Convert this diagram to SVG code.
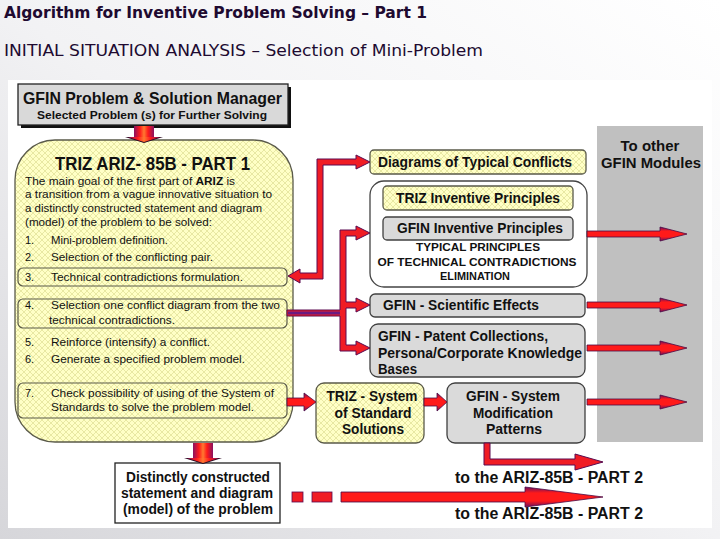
<svg xmlns="http://www.w3.org/2000/svg" width="720" height="539" viewBox="0 0 720 539">
<defs>
  <linearGradient id="bg" x1="1" y1="0" x2="0" y2="1">
    <stop offset="0" stop-color="#ffffff"/>
    <stop offset="0.5" stop-color="#f2f2f4"/>
    <stop offset="1" stop-color="#d6d6da"/>
  </linearGradient>
  <pattern id="hatch" width="6" height="6" patternUnits="userSpaceOnUse">
    <rect width="6" height="6" fill="#ffffc6"/>
    <path d="M0,0 L6,6 M6,0 L0,6" stroke="#e2e29a" stroke-width="0.8"/>
  </pattern>
  <linearGradient id="hArrow" x1="0" y1="0" x2="0" y2="1">
    <stop offset="0" stop-color="#6a0f60"/>
    <stop offset="0.3" stop-color="#ff1a1a"/>
    <stop offset="0.7" stop-color="#ff1a1a"/>
    <stop offset="1" stop-color="#6a0f60"/>
  </linearGradient>
  <linearGradient id="vArrow" x1="0" y1="0" x2="1" y2="0">
    <stop offset="0" stop-color="#8a1060"/>
    <stop offset="0.3" stop-color="#ff1a1a"/>
    <stop offset="0.5" stop-color="#ff7a30"/>
    <stop offset="0.7" stop-color="#ff1a1a"/>
    <stop offset="1" stop-color="#8a1060"/>
  </linearGradient>
  <path id="rightArrow" d="M0,-3 L73,-3 L73,-7 L100,0 L73,7 L73,3 L0,3 Z"/>
  <style>
    .t{font-family:"Liberation Sans",Arial,sans-serif;fill:#111}
    .b{font-weight:bold}
    .ttl{font-family:"DejaVu Sans Condensed","DejaVu Sans",sans-serif;fill:#200a30}
    .yel{fill:url(#hatch);stroke:#5a5a4a;stroke-width:1.3}
    .gry{fill:#dadada;stroke:#404040;stroke-width:1.3}
    .sub{fill:none;stroke:#5a5a4a;stroke-width:1.2}
    .arr{fill:url(#hArrow);stroke:#4a0a45;stroke-width:0.8}
    .con{fill:#f01c24;stroke:#5a0a50;stroke-width:1}
    .fat{fill:url(#vArrow);stroke:none}
    .fathead{fill:#2a0a20}
  </style>
</defs>

<rect width="720" height="539" fill="url(#bg)"/>
<text class="ttl b" x="4" y="18" font-size="16" textLength="423" lengthAdjust="spacingAndGlyphs">Algorithm for Inventive Problem Solving – Part 1</text>
<text class="ttl" x="4" y="56" font-size="16" textLength="479" lengthAdjust="spacingAndGlyphs">INITIAL SITUATION ANALYSIS – Selection of Mini-Problem</text>

<rect x="8" y="80" width="704" height="448" fill="#ffffff"/>

<g id="other-modules">
  <rect x="597" y="126" width="106" height="316" fill="#c0c0c0"/>
  <text class="t b" x="650" y="151" font-size="15" text-anchor="middle">To other</text>
  <text class="t b" x="651" y="168" font-size="15" text-anchor="middle" textLength="100" lengthAdjust="spacingAndGlyphs">GFIN Modules</text>
</g>

<g id="manager">
  <rect x="21" y="87" width="270" height="41" fill="#111"/>
  <rect x="18" y="84" width="270" height="41" fill="#d9d9d9" stroke="#222" stroke-width="1.3"/>
  <text class="t b" x="152.5" y="104" font-size="17" text-anchor="middle" textLength="259" lengthAdjust="spacingAndGlyphs">GFIN Problem &amp; Solution Manager</text>
  <text class="t b" x="152" y="119" font-size="11" text-anchor="middle" textLength="230" lengthAdjust="spacingAndGlyphs">Selected Problem (s) for Further Solving</text>
</g>

<g id="ariz-part1">
  <rect class="yel" x="15" y="140" width="278" height="302" rx="40" ry="40"/>
  <text class="t b" x="152.5" y="170" font-size="19" text-anchor="middle" textLength="195" lengthAdjust="spacingAndGlyphs">TRIZ ARIZ- 85B - PART 1</text>
  <g class="t" font-size="11">
    <text x="25" y="185" textLength="210" lengthAdjust="spacingAndGlyphs">The main goal of the first part of <tspan class="b">ARIZ</tspan> is</text>
    <text x="25" y="198" textLength="247" lengthAdjust="spacingAndGlyphs">a transition  from a vague innovative situation to</text>
    <text x="25" y="212" textLength="237" lengthAdjust="spacingAndGlyphs">a distinctly constructed statement and diagram</text>
    <text x="25" y="226" textLength="187" lengthAdjust="spacingAndGlyphs">(model) of the problem to be solved:</text>
    <text x="25" y="244">1.</text><text x="51" y="244" textLength="117" lengthAdjust="spacingAndGlyphs">Mini-problem definition.</text>
    <text x="25" y="261">2.</text><text x="51" y="261" textLength="162" lengthAdjust="spacingAndGlyphs">Selection of the conflicting pair.</text>
    <text x="25" y="281">3.</text><text x="51" y="281" textLength="192" lengthAdjust="spacingAndGlyphs">Technical contradictions formulation.</text>
    <text x="25" y="309">4.</text><text x="51" y="309" textLength="229" lengthAdjust="spacingAndGlyphs">Selection one conflict diagram from the two</text>
    <text x="49" y="324" textLength="126" lengthAdjust="spacingAndGlyphs">technical contradictions.</text>
    <text x="25" y="346">5.</text><text x="51" y="346" textLength="159" lengthAdjust="spacingAndGlyphs">Reinforce (intensify) a conflict.</text>
    <text x="25" y="363">6.</text><text x="51" y="363" textLength="194" lengthAdjust="spacingAndGlyphs">Generate a specified problem model.</text>
    <text x="25" y="397">7.</text><text x="51" y="397" textLength="223" lengthAdjust="spacingAndGlyphs">Check possibility of using of the System of</text>
    <text x="51" y="411" textLength="203" lengthAdjust="spacingAndGlyphs">Standards to solve the problem model.</text>
  </g>
  <rect class="sub" x="18" y="268" width="269" height="18" rx="5"/>
  <rect class="sub" x="18" y="299" width="269" height="29" rx="5"/>
  <rect class="sub" x="18" y="383" width="269" height="35" rx="5"/>
</g>

<g id="distinct-statement">
  <rect x="115" y="463" width="165" height="60" fill="#ffffff" stroke="#222" stroke-width="1.3"/>
  <text class="t b" x="198" y="482" font-size="14" text-anchor="middle" textLength="144" lengthAdjust="spacingAndGlyphs">Distinctly constructed</text>
  <text class="t b" x="197" y="498" font-size="14" text-anchor="middle" textLength="152" lengthAdjust="spacingAndGlyphs">statement and diagram</text>
  <text class="t b" x="198" y="514" font-size="14" text-anchor="middle" textLength="150" lengthAdjust="spacingAndGlyphs">(model) of the problem</text>
</g>

<g id="typical-conflicts">
  <rect class="yel" x="370" y="150" width="216" height="24" rx="4"/>
  <text class="t b" x="378" y="167" font-size="14" textLength="194" lengthAdjust="spacingAndGlyphs">Diagrams of Typical Conflicts</text>
</g>

<g id="principles-group">
  <rect x="370" y="181" width="217" height="106" rx="14" fill="#ffffff" stroke="#444" stroke-width="1.3"/>
  <text class="t b" x="478" y="251" font-size="11" text-anchor="middle" textLength="124" lengthAdjust="spacingAndGlyphs">TYPICAL PRINCIPLES</text>
  <text class="t b" x="477" y="266" font-size="11" text-anchor="middle" textLength="199" lengthAdjust="spacingAndGlyphs">OF TECHNICAL CONTRADICTIONS</text>
  <text class="t b" x="475" y="280" font-size="11" text-anchor="middle" textLength="70" lengthAdjust="spacingAndGlyphs">ELIMINATION</text>
</g>

<g id="triz-principles">
  <rect class="yel" x="383" y="186" width="190" height="24" rx="4"/>
  <text class="t b" x="478" y="203" font-size="14" text-anchor="middle" textLength="164" lengthAdjust="spacingAndGlyphs">TRIZ Inventive Principles</text>
</g>

<g id="gfin-principles">
  <rect class="gry" x="383" y="217" width="190" height="23" rx="4"/>
  <text class="t b" x="480" y="233" font-size="14" text-anchor="middle" textLength="166" lengthAdjust="spacingAndGlyphs">GFIN Inventive Principles</text>
</g>

<g id="scientific-effects">
  <rect class="gry" x="370" y="294" width="215" height="23" rx="5"/>
  <text class="t b" x="383" y="310" font-size="14" textLength="156" lengthAdjust="spacingAndGlyphs">GFIN - Scientific Effects</text>
</g>

<g id="patent-collections">
  <rect class="gry" x="370" y="324" width="215" height="53" rx="8"/>
  <text class="t b" x="378" y="341" font-size="14" textLength="170" lengthAdjust="spacingAndGlyphs">GFIN - Patent Collections,</text>
  <text class="t b" x="378" y="358" font-size="14" textLength="204" lengthAdjust="spacingAndGlyphs">Persona/Corporate Knowledge</text>
  <text class="t b" x="378" y="374" font-size="14" textLength="39" lengthAdjust="spacingAndGlyphs">Bases</text>
</g>

<g id="standard-solutions">
  <rect class="yel" x="316" y="383" width="108" height="60" rx="8"/>
  <text class="t b" x="372" y="401" font-size="14" text-anchor="middle" textLength="91" lengthAdjust="spacingAndGlyphs">TRIZ - System</text>
  <text class="t b" x="373" y="418" font-size="14" text-anchor="middle" textLength="77" lengthAdjust="spacingAndGlyphs">of Standard</text>
  <text class="t b" x="373" y="434" font-size="14" text-anchor="middle" textLength="62" lengthAdjust="spacingAndGlyphs">Solutions</text>
</g>

<g id="modification-patterns">
  <rect class="gry" x="447" y="383" width="138" height="60" rx="8"/>
  <text class="t b" x="513" y="401" font-size="14" text-anchor="middle" textLength="94" lengthAdjust="spacingAndGlyphs">GFIN - System</text>
  <text class="t b" x="513" y="418" font-size="14" text-anchor="middle" textLength="80" lengthAdjust="spacingAndGlyphs">Modification</text>
  <text class="t b" x="514" y="434" font-size="14" text-anchor="middle" textLength="56" lengthAdjust="spacingAndGlyphs">Patterns</text>
</g>

<g id="part2-labels">
  <text class="t b" x="455" y="483" font-size="16" textLength="188" lengthAdjust="spacingAndGlyphs">to the ARIZ-85B - PART 2</text>
  <text class="t b" x="455" y="519" font-size="16" textLength="188" lengthAdjust="spacingAndGlyphs">to the ARIZ-85B - PART 2</text>
</g>

<g id="connectors">
  <!-- fat down arrows -->
  <rect class="fat" x="134" y="126" width="20" height="11"/>
  <path class="fathead" d="M125,137 L163,137 L144,143 Z"/>
  <path class="fat" d="M128,137 L160,137 L144,142 Z"/>
  <rect class="fat" x="193" y="443" width="20" height="15"/>
  <path class="fathead" d="M184,458 L222,458 L203,464 Z"/>
  <path class="fat" d="M187,458 L219,458 L203,463 Z"/>

  <!-- box 3 <-> diagrams of typical conflicts -->
  <path class="con" d="M288,276 L300,269 L300,273 L317,273 L317,159 L356,159 L356,155 L370,162 L356,169 L356,165 L323,165 L323,279 L300,279 L300,283 Z"/>

  <!-- box 4 bus -->
  <path class="con" d="M287,310 L340,310 L340,230 L356,230 L356,226 L370,233 L356,240 L356,236 L346,236 L346,302 L356,302 L356,298 L370,305 L356,312 L356,308 L346,308 L346,345 L356,345 L356,341 L370,348 L356,355 L356,351 L340,351 L340,316 L287,316 Z"/>
  <rect x="288" y="311.5" width="52" height="3" fill="#6a1a80"/>

  <!-- box 7 -> standard solutions -->
  <path class="arr" d="M287,398 L304,398 L304,393 L316,402 L304,411 L304,406 L287,406 Z"/>
  <!-- standard solutions -> modification patterns -->
  <path class="arr" d="M424,398 L437,398 L437,393 L447,402 L437,411 L437,406 L424,406 Z"/>

  <!-- arrows to other modules -->
  <use href="#rightArrow" class="arr" transform="translate(587,234)"/>
  <use href="#rightArrow" class="arr" transform="translate(587,305)"/>
  <use href="#rightArrow" class="arr" transform="translate(587,348)"/>
  <use href="#rightArrow" class="arr" transform="translate(587,402)"/>

  <!-- modification patterns -> part 2 -->
  <path class="con" d="M484,443 L490,443 L490,459 L575,459 L575,454 L603,462 L575,470 L575,465 L484,465 Z"/>

  <!-- distinct statement -> part 2 (dashed start) -->
  <rect x="292" y="492" width="11" height="10" fill="#f01c24" stroke="#5a0a50" stroke-width="0.8"/>
  <rect x="312" y="492" width="20" height="10" fill="#f01c24" stroke="#5a0a50" stroke-width="0.8"/>
  <path class="arr" d="M341,492 L525,492 L525,487 L603,497 L525,507 L525,502 L341,502 Z"/>
</g>
</svg>
